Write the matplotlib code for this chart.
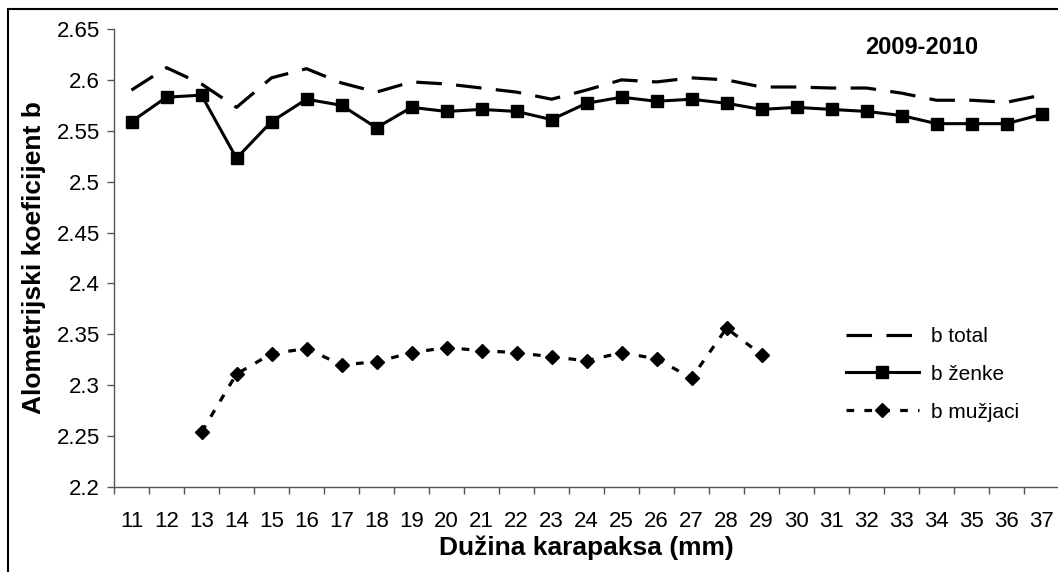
import numpy as np
import matplotlib
matplotlib.use('Agg')
import matplotlib.pyplot as plt
from matplotlib.patches import Rectangle
from matplotlib.ticker import FixedLocator, NullFormatter

plt.rcParams['font.family'] = ['Liberation Sans', 'DejaVu Sans']

# Data
lengths = list(range(11, 38))
b_total = [2.590, 2.612, 2.596, 2.573, 2.602, 2.611, 2.597, 2.588, 2.598,
           2.596, 2.592, 2.588, 2.581, 2.590, 2.600, 2.598, 2.602, 2.600,
           2.593, 2.593, 2.592, 2.592, 2.587, 2.580, 2.580, 2.578, 2.585]
b_zenke = [2.559, 2.583, 2.585, 2.523, 2.559, 2.581, 2.575, 2.553, 2.573,
           2.569, 2.571, 2.569, 2.561, 2.577, 2.583, 2.579, 2.581, 2.577,
           2.571, 2.573, 2.571, 2.569, 2.565, 2.557, 2.557, 2.557, 2.566]
muz_lengths = list(range(13, 30))
b_muzjaci = [2.254, 2.311, 2.331, 2.336, 2.320, 2.323, 2.332, 2.337, 2.334,
             2.332, 2.328, 2.324, 2.332, 2.326, 2.307, 2.356, 2.330]

W, H = 1058, 572
fig = plt.figure(figsize=(W / 100, H / 100), dpi=100)
ax = fig.add_axes([114 / W, 1 - 487 / H, (1059 - 114) / W, (487 - 29) / H])

x_all = np.arange(len(lengths))
x_muz = np.array([lengths.index(v) for v in muz_lengths])

ax.plot(x_all, b_total, color='black', lw=2.3, dashes=(8, 4.5),
        label='b total')
ax.plot(x_all, b_zenke, color='black', lw=2.2, marker='s', markersize=8,
        label='b \u017eenke')
ax.plot(x_muz, b_muzjaci, color='black', lw=2.3, dashes=(2.4, 3.2),
        marker='D', markersize=7, label='b mu\u017ejaci')

ax.set_xlim(-0.5, len(lengths) - 0.5)
ax.set_ylim(2.2, 2.65)
ax.set_yticks(np.arange(2.2, 2.651, 0.05))
ax.set_yticklabels(['2.2', '2.25', '2.3', '2.35', '2.4', '2.45', '2.5',
                    '2.55', '2.6', '2.65'])
ax.set_xticks(x_all)
ax.set_xticklabels([str(v) for v in lengths])
ax.xaxis.set_minor_locator(FixedLocator(np.arange(-0.5, len(lengths), 1)))
ax.xaxis.set_minor_formatter(NullFormatter())
ax.tick_params(axis='x', which='major', length=0, labelsize=16, pad=17)
ax.tick_params(axis='x', which='minor', length=5, width=1, color='#555555')
ax.tick_params(axis='y', length=5, width=1, color='#555555', labelsize=16,
               pad=5)

for s in ['top', 'right']:
    ax.spines[s].set_visible(False)
for s in ['left', 'bottom']:
    ax.spines[s].set_color('#555555')
    ax.spines[s].set_linewidth(1)

ax.set_xlabel('Du\u017eina karapaksa (mm)', fontsize=19, fontweight='bold',
              labelpad=3)
ax.set_ylabel('Alometrijski koeficijent b', fontsize=19, fontweight='bold',
              labelpad=8)

ax.text(922 / W, 1 - 48 / H, '2009-2010', transform=fig.transFigure,
        fontsize=17, fontweight='bold', ha='center', va='center')

ax.legend(loc='upper left', bbox_to_anchor=(846 / W, 1 - 327 / H),
          bbox_transform=fig.transFigure, frameon=False, fontsize=15,
          handlelength=3.5, handletextpad=0.6, labelspacing=0.9,
          borderpad=0, borderaxespad=0)

fig.patches.append(Rectangle((8 / W, -0.1), 1.2, 1 - 9 / H + 0.1,
                             transform=fig.transFigure, fill=False,
                             edgecolor='black', lw=1.5))

fig.savefig('out.png', dpi=100)
